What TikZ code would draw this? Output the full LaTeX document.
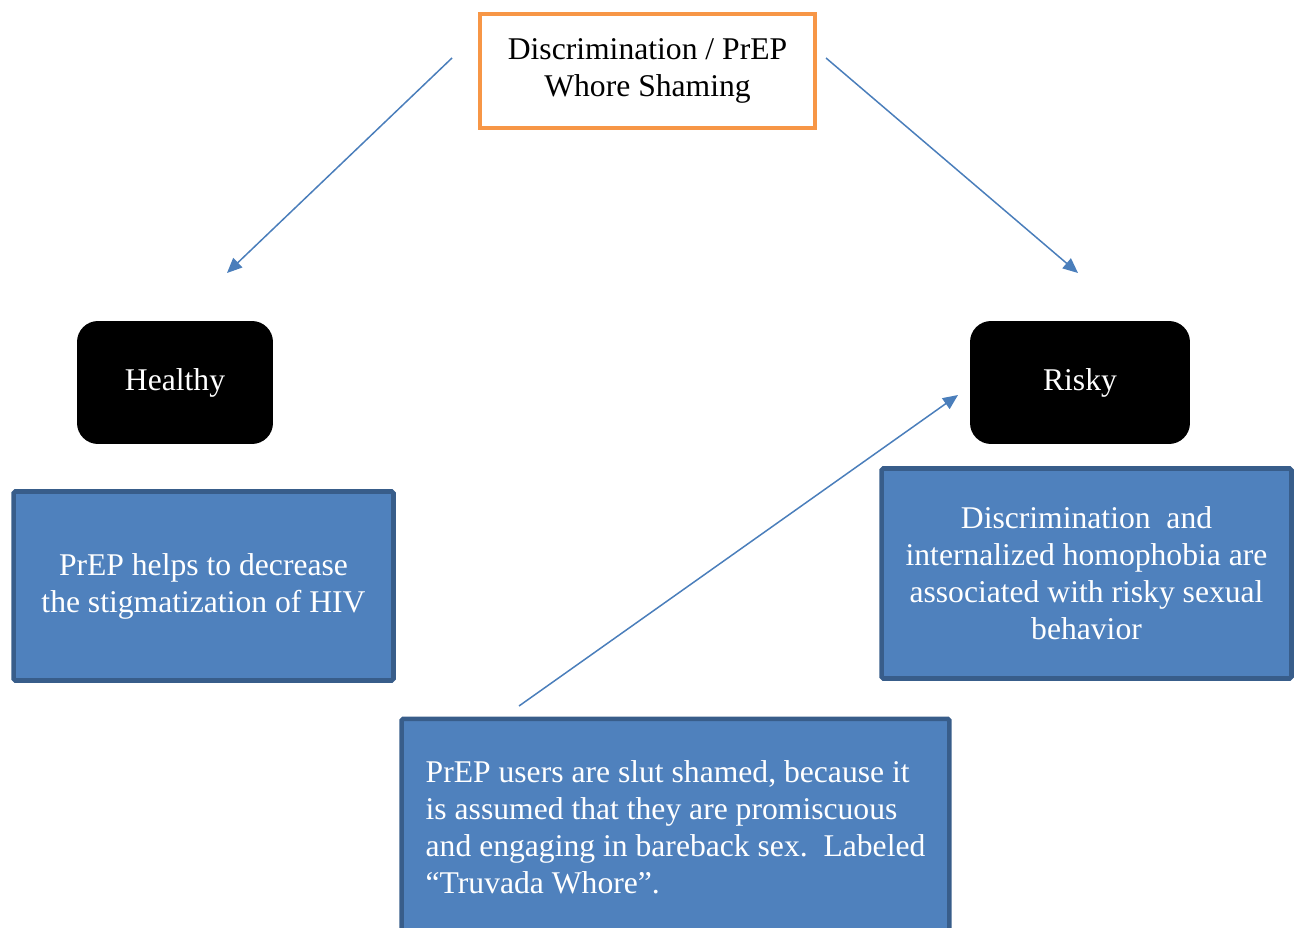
\documentclass[tikz,border=0pt]{standalone}
\usepackage{fontspec}
\setmainfont{Liberation Serif}
\usepackage{xcolor}
\usepackage{tikz}
\usetikzlibrary{arrows.meta}
\definecolor{shameorange}{HTML}{F79646}
\definecolor{notefill}{HTML}{4F81BD}
\definecolor{noteline}{HTML}{385D8A}
\definecolor{arrowblue}{HTML}{4A7EBB}
\tikzstyle{shamebox} = [rectangle, draw=shameorange, line width=2.2pt, fill=white, align=center, minimum width=6.7cm, minimum height=2.28cm]
\tikzstyle{valence} = [rectangle, fill=black, text=white, rounded corners=0.42cm, minimum height=2.46cm]
\tikzstyle{note} = [rectangle, draw=noteline, fill=notefill, text=white, line width=2.6pt, rounded corners=1pt, align=center]
\tikzstyle{arrow} = [draw, arrowblue, line width=0.85pt, -{Triangle[length=0.3cm, width=0.26cm]}]

\begin{document}
\begin{tikzpicture}[x=0.02cm, y=-0.02cm, font=\fontsize{18}{21}\selectfont]
\useasboundingbox (0, 0) rectangle (1297, 928);

%% top
\node[shamebox] at (647.5, 71) (shame) {Discrimination / PrEP\\Whore Shaming};

%% healthy / risky
\node[valence, minimum width=3.92cm] at (175, 382.5) (healthy) {Healthy};
\node[valence, minimum width=4.4cm] at (1080, 382.5) (risky) {Risky};

\coordinate (s1) at (452, 58);
\coordinate (h1) at (227, 273);
\path [arrow] (s1) to (h1);

\coordinate (s2) at (826, 58);
\coordinate (r1) at (1078, 273);
\path [arrow] (s2) to (r1);

%% notes
\node[note, minimum width=7.6cm, minimum height=3.78cm] at (203.5, 586) (stigma) {PrEP helps to decrease\\the stigmatization of HIV};

\node[note, minimum width=8.2cm, minimum height=4.2cm] at (1086.5, 573.5) (homophobia) {Discrimination\ \ and\\internalized homophobia are\\associated with risky sexual\\behavior};

\node[note, align=left, minimum width=10.96cm, minimum height=4.34cm, anchor=north] at (675.5, 716.5) (slut) {PrEP users are slut shamed, because it\\is assumed that they are promiscuous\\and engaging in bareback sex.\ \ Labeled\\``Truvada Whore''.};

\coordinate (b1) at (519, 706);
\coordinate (r2) at (958, 395);
\path [arrow] (b1) to (r2);

\end{tikzpicture}
\end{document}
